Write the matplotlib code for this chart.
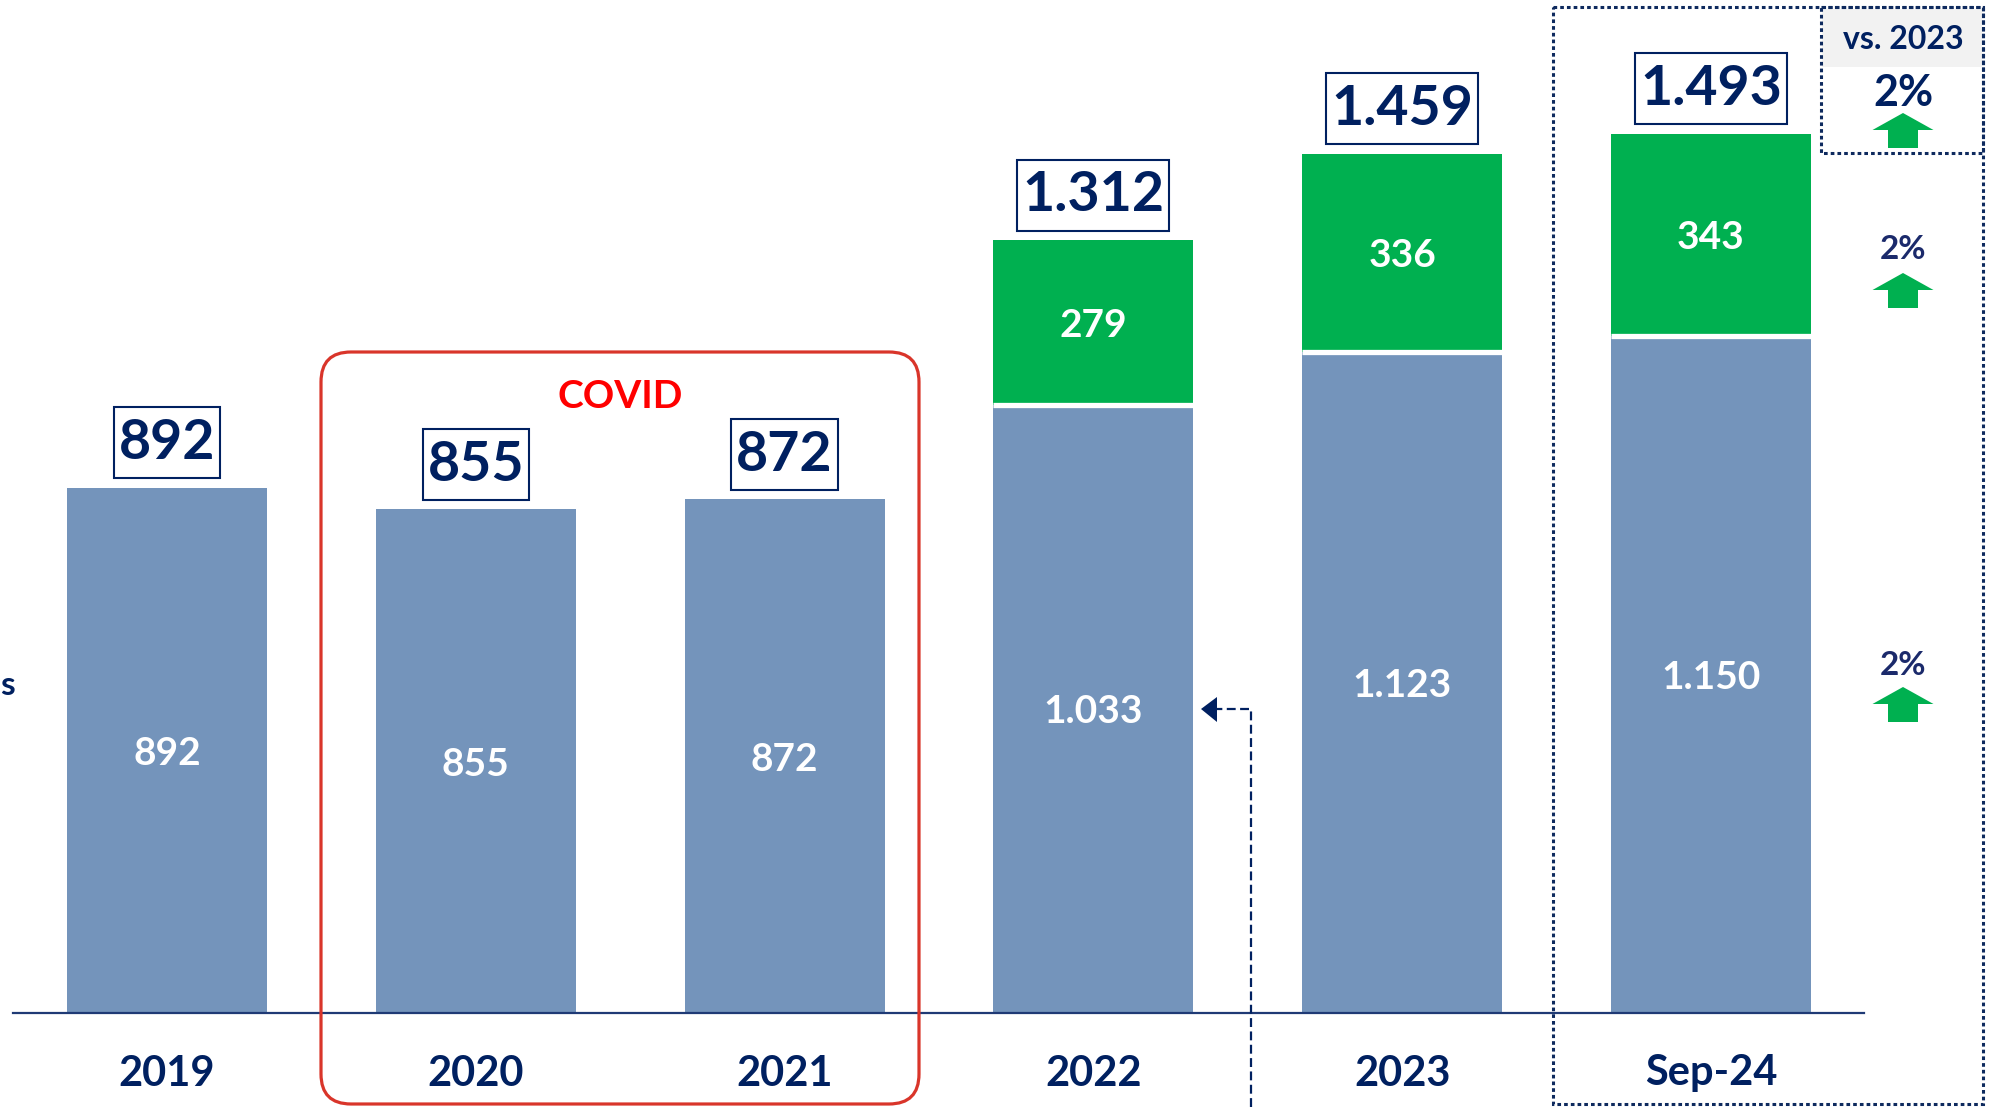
import matplotlib
matplotlib.use("Agg")
import matplotlib.pyplot as plt
from matplotlib.patches import FancyBboxPatch, Rectangle, Polygon
from matplotlib.path import Path
import matplotlib.transforms as mtransforms

plt.rcParams['font.family'] = ['Lato', 'DejaVu Sans']
plt.rcParams['font.weight'] = 'bold'

# ---------------- data ----------------
categories = ["2019", "2020", "2021", "2022", "2023", "Sep-24"]
base_values = [892, 855, 872, 1033, 1123, 1150]
green_values = [0, 0, 0, 279, 336, 343]
growth_labels = ["2%", "2%", "2%"]  # total, green, blue vs. 2023

BLUE = '#7494BB'
GREEN = '#00B050'
NAVY = '#002060'
RED = '#FF0000'
RED_BOX = '#D9352A'


def fmt(v):
    return f"{v:,}".replace(",", ".")


def tall_box(x0, y0, width, height, mutation_size):
    """Rectangular box with more vertical than horizontal padding."""
    px = 0.09 * mutation_size
    py = 0.19 * mutation_size
    xa, xb = x0 - px, x0 + width + px
    ya, yb = y0 - py, y0 + height + py
    return Path([(xa, ya), (xb, ya), (xb, yb), (xa, yb), (xa, ya)],
                closed=True)


W, H = 1995, 1107
fig = plt.figure(figsize=(W / 100, H / 100), dpi=100)

# main data axes (covers whole figure)
ax = fig.add_axes([0, 0, 1, 1])
ax.set_xlim(-0.541, 5.920)
ax.set_ylim(-159.6, 1719.9)
ax.set_axis_off()

# overlay axes in pixel coordinates for decorations
ov = fig.add_axes([0, 0, 1, 1], zorder=5)
ov.set_xlim(0, W)
ov.set_ylim(H, 0)
ov.set_axis_off()
ov.patch.set_alpha(0)

x = list(range(len(categories)))
width = 0.648

ax.bar(x, base_values, width=width, color=BLUE, linewidth=0, zorder=2)
ax.bar(x, green_values, width=width, bottom=base_values, color=GREEN, linewidth=0, zorder=2)
# white separator between stacked segments
for i, (b, g) in enumerate(zip(base_values, green_values)):
    if g > 0:
        ax.hlines(b, i - width / 2, i + width / 2, color='white', lw=3.8, zorder=3)

# baseline
ax.axhline(0, xmin=13 / W, xmax=1864 / W, color='#1F3A75', lw=1.6, zorder=3)

# value labels inside bars
for i, (b, g) in enumerate(zip(base_values, green_values)):
    ax.text(i, b / 2, fmt(b), ha='center', va='center_baseline', color='white',
            fontsize=28, fontweight='bold', zorder=4)
    if g > 0:
        ax.text(i, b + g / 2, fmt(g), ha='center', va='center_baseline', color='white',
                fontsize=28, fontweight='bold', zorder=4)
    total = b + g
    ax.annotate(fmt(total), xy=(i, total), xytext=(0, 35.5), textcoords='offset points',
                ha='center', va='center_baseline', color=NAVY, fontsize=40, fontweight='bold',
                bbox=dict(boxstyle=tall_box, fc='white', ec=NAVY, lw=1.5),
                zorder=4)

# category labels (x in data, y in pixels)
blend = mtransforms.blended_transform_factory(ax.transData, ov.transData)
for i, c in enumerate(categories):
    ax.text(i, 1070, c, transform=blend, ha='center', va='center_baseline',
            color=NAVY, fontsize=30, fontweight='bold')

# COVID box
ov.add_patch(FancyBboxPatch((321, 352), 598, 752,
                            boxstyle='round,pad=0,rounding_size=30',
                            ec=RED_BOX, fc='none', lw=2.3))
ov.text(620, 393, "COVID", ha='center', va='center_baseline', color=RED,
        fontsize=28, fontweight='bold')

# Sep-24 dotted box
ov.add_patch(Rectangle((1822, 9), 160, 58, fc='#F2F2F2', ec='none'))
ov.add_patch(Rectangle((1553, 7), 430, 1097, fc='none', ec='#0E2A5E', lw=2.2,
                       ls=(0, (1.2, 1.0))))
ov.add_patch(Rectangle((1821, 7), 162, 146, fc='none', ec='#0E2A5E', lw=2.2,
                       ls=(0, (1.2, 1.0))))
ov.text(1903, 37, "vs. 2023", ha='center', va='center_baseline', color=NAVY,
        fontsize=23, fontweight='bold')


def up_arrow(cx, ty):
    pts = [(cx, ty), (cx + 30.5, ty + 17), (cx + 15, ty + 17), (cx + 15, ty + 35),
           (cx - 15, ty + 35), (cx - 15, ty + 17), (cx - 30.5, ty + 17)]
    ov.add_patch(Polygon(pts, closed=True, fc=GREEN, ec='none'))


ov.text(1903, 90, growth_labels[0], ha='center', va='center_baseline', color=NAVY,
        fontsize=31, fontweight='bold')
up_arrow(1903, 113)
ov.text(1903, 247, growth_labels[1], ha='center', va='center_baseline', color='#1B2A6B',
        fontsize=24, fontweight='bold')
up_arrow(1903, 273)
ov.text(1903, 663, growth_labels[2], ha='center', va='center_baseline', color='#1B2A6B',
        fontsize=24, fontweight='bold')
up_arrow(1903, 687)

# dashed connector arrow
ov.plot([1251, 1251, 1216], [H, 709, 709], color=NAVY, lw=1.6, ls=(0, (4, 2)))
ov.add_patch(Polygon([(1201, 709), (1217, 697), (1217, 722)], closed=True,
                     fc=NAVY, ec='none'))

# cropped left label
ov.text(0, 683, "s", ha='left', va='center_baseline', color=NAVY,
        fontsize=24, fontweight='bold')

fig.savefig("out.png", dpi=100)
